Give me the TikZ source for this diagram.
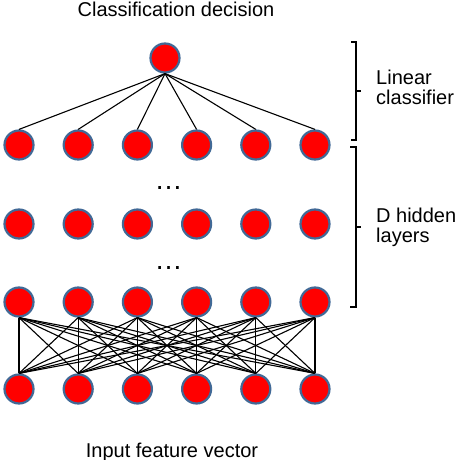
\documentclass[tikz,border=0pt]{standalone}
\usepackage{fontspec}
\setmainfont{Liberation Sans}
\definecolor{unitrim}{RGB}{65,105,150}
\begin{document}
\begin{tikzpicture}[x=1pt,y=-1pt,
	unit/.style={circle,fill=red,draw=unitrim,line width=2.2pt,minimum size=29pt,inner sep=0pt},
	link/.style={line width=1.1pt},
	bracket/.style={line width=1.5pt},
	caption/.style={font=\fontsize{20}{20}\selectfont,inner sep=0pt},
	gapdots/.style={font=\fontsize{28}{28}\selectfont,inner sep=0pt}]
	\useasboundingbox (0,0) rectangle (456,460);
	% units, rows counted from the input
	\foreach \r/\y in {1/389,2/302,3/224,4/145}
		\foreach \c in {1,...,6}
			\node[unit] (u\r\c) at ({19+59.2*(\c-1)},\y) {};
	\node[unit] (decnode) at (165,58) {};
	% links
	\foreach \c in {1,...,6}
		\draw[link] (decnode.south) -- (u4\c.north);
	\foreach \a in {1,...,6}
		\foreach \b in {1,...,6}
			\draw[link] (u2\a.south) -- (u1\b.north);
	\node[gapdots] (gapA) at (168.5,188) {…};
	\node[gapdots] (gapB) at (168.5,268) {…};
	% brackets
	\draw[bracket] (351,42) -- (356,42) -- (356,140) -- (351,140);
	\draw[bracket] (356,91) -- (361,91);
	\draw[bracket] (350,147) -- (356,147) -- (356,307) -- (350,307);
	\draw[bracket] (356,227) -- (361,227);
	% texts
	\node[caption,anchor=base] (titletext) at (176,17) {Classification decision};
	\node[caption,anchor=base] (inputtext) at (172,457) {Input feature vector};
	\node[caption,align=left,anchor=north west] (lintext) at (376,70) {Linear\\classifier};
	\node[caption,align=left,anchor=north west] (hidtext) at (376,208) {D hidden\\layers};
\end{tikzpicture}
\end{document}
